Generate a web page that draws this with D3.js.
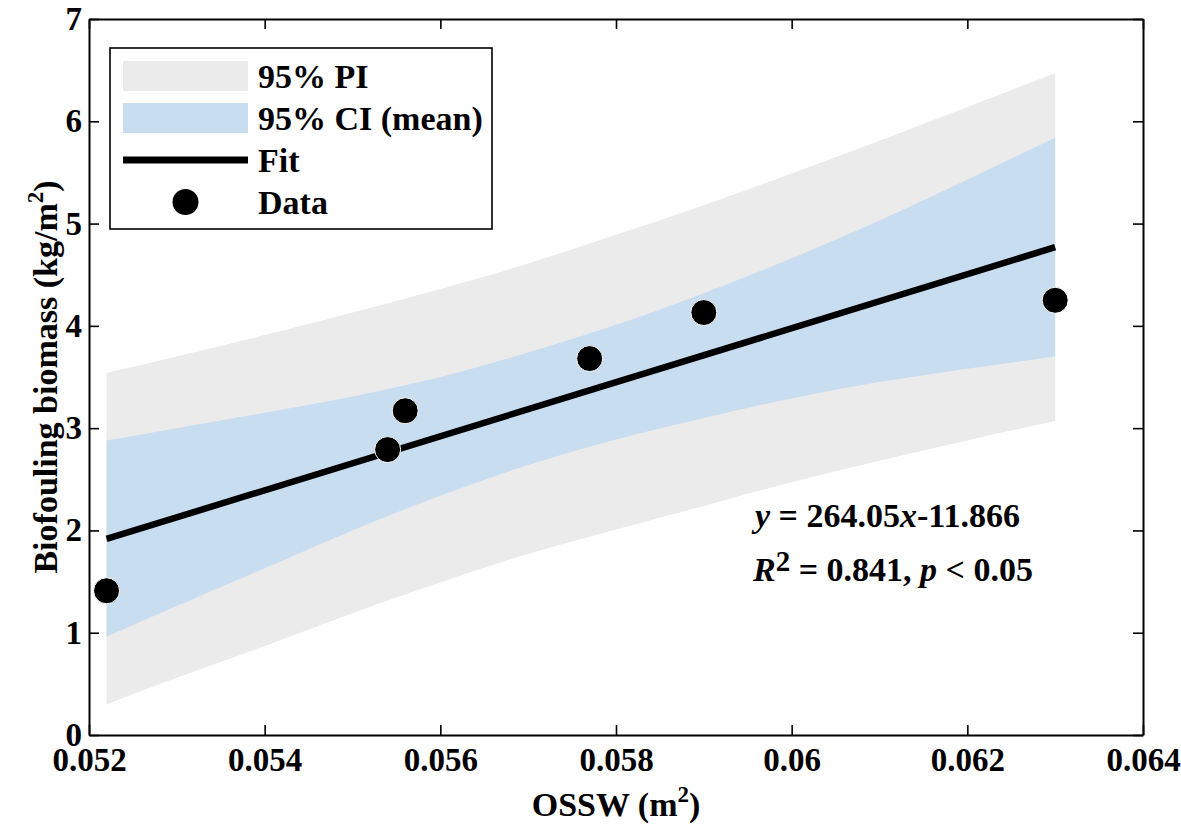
<!DOCTYPE html>
<html>
<head>
<meta charset="utf-8">
<script src="https://cdn.jsdelivr.net/npm/d3@7"></script>
<style>
  html, body { margin: 0; padding: 0; background: #fff; }
  svg text { font-family: "Liberation Serif", "Times New Roman", serif; font-weight: bold; }
</style>
</head>
<body>
<div id="chart"></div>
<script>
const width = 1181;
const height = 827;

// observed data
const dataX = [0.0522, 0.0554, 0.0556, 0.0577, 0.0590, 0.0630];
const dataY = [1.41, 2.79, 3.17, 3.68, 4.13, 4.25];

// fit line ends (y = 264.05x - 11.866)
const fitX = [0.0522, 0.0630];
const fitY = [1.917, 4.769];

// band edges
const bandX = [0.0522, 0.053, 0.054, 0.055, 0.056, 0.057, 0.058, 0.059, 0.060, 0.061, 0.062, 0.063];
const piHi = [3.54, 3.70, 3.91, 4.13, 4.36, 4.61, 4.89, 5.18, 5.49, 5.81, 6.14, 6.47];
const ciHi = [2.88, 3.00, 3.15, 3.31, 3.50, 3.74, 4.01, 4.32, 4.66, 5.03, 5.43, 5.84];
const ciLo = [0.96, 1.26, 1.63, 2.00, 2.34, 2.64, 2.89, 3.10, 3.29, 3.45, 3.58, 3.70];
const piLo = [0.30, 0.56, 0.87, 1.19, 1.49, 1.77, 2.01, 2.24, 2.47, 2.68, 2.88, 3.07];

const xTicks = [0.052, 0.054, 0.056, 0.058, 0.06, 0.062, 0.064];
const xTickLabels = ["0.052", "0.054", "0.056", "0.058", "0.06", "0.062", "0.064"];
const yTicks = [0, 1, 2, 3, 4, 5, 6, 7];

const legendLabels = ["95% PI", "95% CI (mean)", "Fit", "Data"];

const piColor = "#ebebeb";
const ciColor = "#c9ddf1";
const fontSize = 34;
const tickFont = 33;

const margin = { top: 19, right: 38, bottom: 92, left: 89 };

const svg = d3.select("#chart")
  .append("svg")
  .attr("width", width)
  .attr("height", height);

const x = d3.scaleLinear().domain([0.052, 0.064]).range([margin.left, width - margin.right]);
const y = d3.scaleLinear().domain([0, 7]).range([height - margin.bottom, margin.top]);

const idx = d3.range(bandX.length);

const band = (lo, hi) => d3.area()
  .x(i => x(bandX[i]))
  .y0(i => y(lo[i]))
  .y1(i => y(hi[i]))
  .curve(d3.curveNatural);

svg.append("path").attr("d", band(piLo, piHi)(idx)).attr("fill", piColor);
svg.append("path").attr("d", band(ciLo, ciHi)(idx)).attr("fill", ciColor);

// fit line
svg.append("path")
  .attr("d", d3.line().x(i => x(fitX[i])).y(i => y(fitY[i]))([0, 1]))
  .attr("stroke", "#000")
  .attr("stroke-width", 6.5)
  .attr("fill", "none");

// points
svg.selectAll("circle.pt")
  .data(d3.range(dataX.length))
  .join("circle")
  .attr("class", "pt")
  .attr("cx", i => x(dataX[i]))
  .attr("cy", i => y(dataY[i]))
  .attr("r", 13)
  .attr("fill", "#000")
  .attr("stroke", "#fff")
  .attr("stroke-width", 1);

// axes (ticks point inwards, MATLAB style)
function styleAxis(g) {
  g.attr("font-family", null).attr("font-size", null);
  g.selectAll("path.domain").attr("stroke-width", 2);
  g.selectAll(".tick line").attr("stroke-width", 1.6);
  g.selectAll("text").style("font-size", tickFont + "px").attr("fill", "#000");
}

svg.append("g")
  .attr("transform", `translate(0,${y(0)})`)
  .call(d3.axisBottom(x).tickValues(xTicks).tickFormat((d, i) => xTickLabels[i])
    .tickSizeInner(-10).tickSizeOuter(0).tickPadding(13))
  .call(styleAxis);

svg.append("g")
  .attr("transform", `translate(0,${y(7)})`)
  .call(d3.axisTop(x).tickValues(xTicks).tickFormat("").tickSizeInner(-10).tickSizeOuter(0))
  .call(styleAxis);

svg.append("g")
  .attr("transform", `translate(${x(0.052)},0)`)
  .call(d3.axisLeft(y).tickValues(yTicks).tickFormat(d3.format("d"))
    .tickSizeInner(-10).tickSizeOuter(0).tickPadding(7))
  .call(styleAxis);

svg.append("g")
  .attr("transform", `translate(${x(0.064)},0)`)
  .call(d3.axisRight(y).tickValues(yTicks).tickFormat("").tickSizeInner(-10).tickSizeOuter(0))
  .call(styleAxis);

// axis titles
const xTitle = svg.append("text")
  .attr("x", (x.range()[0] + x.range()[1]) / 2)
  .attr("y", 816)
  .attr("text-anchor", "middle")
  .style("font-size", fontSize + "px");
xTitle.append("tspan").text("OSSW (m");
xTitle.append("tspan").attr("dy", -14).style("font-size", "23px").text("2");
xTitle.append("tspan").attr("dy", 14).text(")");

const yTitle = svg.append("text")
  .attr("transform", `translate(57,${(y.range()[0] + y.range()[1]) / 2}) rotate(-90)`)
  .attr("text-anchor", "middle")
  .style("font-size", fontSize + "px");
yTitle.append("tspan").text("Biofouling biomass (kg/m");
yTitle.append("tspan").attr("dy", -14).style("font-size", "23px").text("2");
yTitle.append("tspan").attr("dy", 14).text(")");

// equation annotation
const eq = svg.append("text").attr("x", 755).attr("y", 527).style("font-size", fontSize + "px");
eq.append("tspan").style("font-style", "italic").text("y");
eq.append("tspan").text(" = 264.05");
eq.append("tspan").style("font-style", "italic").text("x");
eq.append("tspan").text("-11.866");

const r2 = svg.append("text").attr("x", 753).attr("y", 581).style("font-size", fontSize + "px");
r2.append("tspan").style("font-style", "italic").text("R");
r2.append("tspan").attr("dy", -10).style("font-size", "29px").text("2");
r2.append("tspan").attr("dy", 10).text(" = 0.841, ");
r2.append("tspan").style("font-style", "italic").text("p");
r2.append("tspan").text(" < 0.05");

// legend
const legend = svg.append("g");
legend.append("rect")
  .attr("x", 110).attr("y", 48)
  .attr("width", 382).attr("height", 181)
  .attr("fill", "#fff")
  .attr("stroke", "#000")
  .attr("stroke-width", 1.6);

const rowY = [76, 118, 160, 202];
const swX = [123, 248];

legend.append("rect").attr("x", swX[0]).attr("y", rowY[0] - 15)
  .attr("width", swX[1] - swX[0]).attr("height", 30).attr("fill", piColor);
legend.append("rect").attr("x", swX[0]).attr("y", rowY[1] - 15)
  .attr("width", swX[1] - swX[0]).attr("height", 30).attr("fill", ciColor);
legend.append("line").attr("x1", swX[0]).attr("x2", swX[1])
  .attr("y1", rowY[2]).attr("y2", rowY[2])
  .attr("stroke", "#000").attr("stroke-width", 7);
legend.append("circle").attr("cx", (swX[0] + swX[1]) / 2).attr("cy", rowY[3])
  .attr("r", 13).attr("fill", "#000");

legend.selectAll("text.lab")
  .data(legendLabels)
  .join("text")
  .attr("class", "lab")
  .attr("x", 258)
  .attr("y", (d, i) => rowY[i] + 12)
  .style("font-size", fontSize + "px")
  .text(d => d);
</script>
</body>
</html>
